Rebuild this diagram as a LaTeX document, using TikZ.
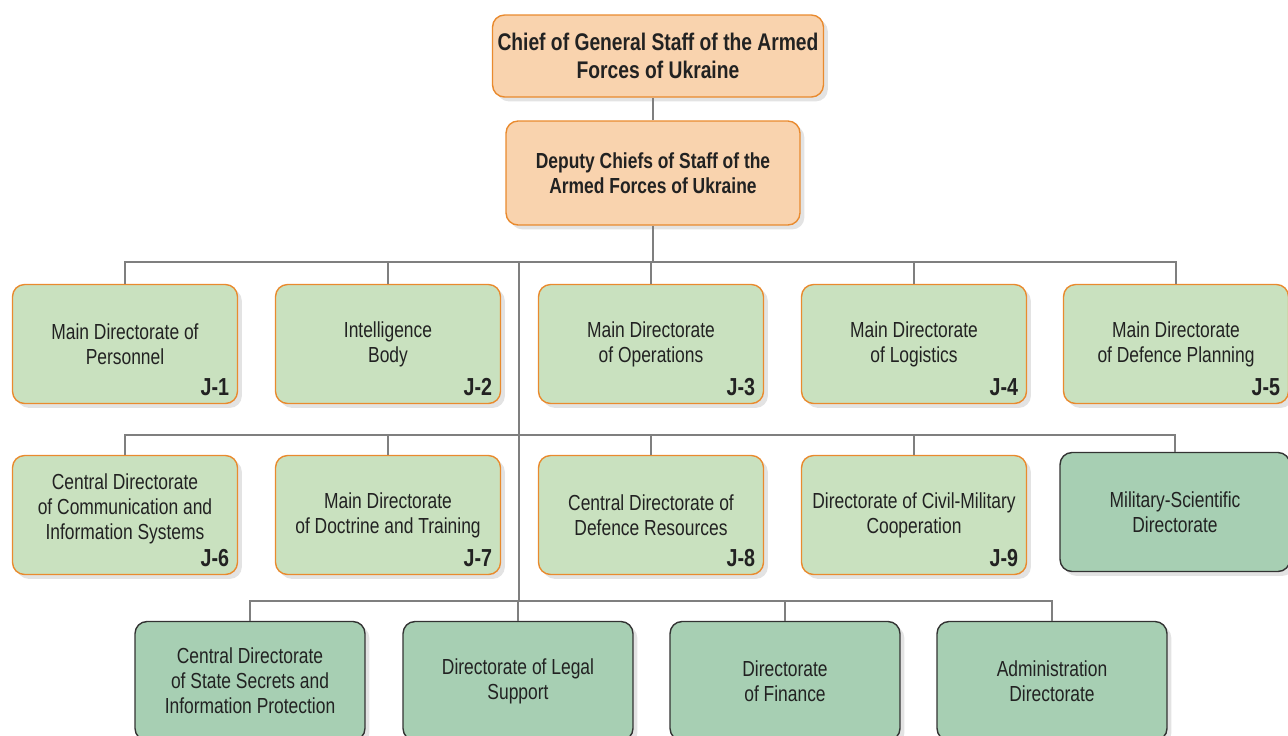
\documentclass[tikz,border=0pt]{standalone}
\usepackage{fontspec}
\setmainfont{Liberation Sans}[FakeStretch=0.8]
\usetikzlibrary{positioning,shadows}

\definecolor{boxorange}{HTML}{F9D3AE}
\definecolor{lineorange}{HTML}{E98A2E}
\definecolor{boxgreen}{HTML}{C9E1BF}
\definecolor{boxdark}{HTML}{A7CFB3}
\definecolor{linkgray}{HTML}{7F7F7F}
\definecolor{inkgray}{HTML}{222222}

\tikzset{
  box/.style={rounded corners=0.24cm, line width=0.8pt, align=center, text=inkgray,
    drop shadow={shadow xshift=2.5pt, shadow yshift=-2.5pt, opacity=0.22},
    font=\fontsize{12.4}{14.2}\selectfont},
  chief/.style={box, draw=lineorange, fill=boxorange, font=\fontsize{12.4}{14.2}\selectfont\bfseries},
  dept/.style={box, draw=lineorange, fill=boxgreen, minimum width=4.5cm, minimum height=2.38cm},
  unit/.style={box, draw=black!80, fill=boxdark, minimum width=4.6cm, minimum height=2.38cm},
  jtag/.style={anchor=south east, inner sep=2pt, xshift=-3pt, yshift=2.5pt, text=inkgray,
    font=\fontsize{14}{15}\selectfont\bfseries},
  link/.style={draw=linkgray, line width=1.3pt}
}

\begin{document}
\begin{tikzpicture}[x=0.02cm,y=-0.02cm]
  \useasboundingbox (0,0) rectangle (1288,735);

  % top of the staff
  \node[chief, minimum width=6.62cm, minimum height=1.64cm, inner xsep=2pt,
    font=\fontsize{13.7}{15.8}\selectfont\bfseries] (chief) at (658,56)
    {Chief of General Staff of the Armed\\Forces of Ukraine};
  \node[chief, minimum width=5.88cm, minimum height=2.08cm] (deputy) at (653,173)
    {Deputy Chiefs of Staff of the\\Armed Forces of Ukraine};

  % first row, J-1 to J-5
  \node[dept] (j1box) at (125,344) {Main Directorate of\\Personnel};
  \node[dept] (j2box) at (388,344) {Intelligence\\Body};
  \node[dept] (j3box) at (651,344) {Main Directorate\\of Operations};
  \node[dept] (j4box) at (914,344) {Main Directorate\\of Logistics};
  \node[dept] (j5box) at (1176,344) {Main Directorate\\of Defence Planning};

  % second row, J-6 to J-9
  \node[dept] (j6box) at (125,515) {Central Directorate\\of Communication and\\Information Systems\\[-4.2pt]};
  \node[dept] (j7box) at (388,515) {Main Directorate\\of Doctrine and Training};
  \node[dept] (j8box) at (651,515) {Central Directorate of\\Defence Resources};
  \node[dept] (j9box) at (914,515) {Directorate of Civil-Military\\Cooperation};
  \node[unit] (scibox) at (1175,512) {Military-Scientific\\Directorate};

  % third row
  \node[unit] (secbox) at (250,681) {Central Directorate\\of State Secrets and\\Information Protection};
  \node[unit] (legbox) at (518,681) {Directorate of Legal\\Support};
  \node[unit] (finbox) at (785,681) {Directorate\\of Finance};
  \node[unit] (admbox) at (1052,681) {Administration\\Directorate};

  \foreach \n in {1,...,9}
    \node[jtag] (j\n) at (j\n box.south east) {J-\n};

  % connectors
  \coordinate (bus1) at (519,262);
  \coordinate (bus2) at (519,435);
  \coordinate (bus3) at (519,601);

  \draw[link] (deputy.north) -- (deputy.north |- chief.south);
  \draw[link] (deputy.south) -- (deputy.south |- bus1);
  \draw[link] (bus1) -- (bus3);
  \draw[link] (j1box.north) -- (j1box.north |- bus1) -- (j5box.north |- bus1) -- (j5box.north);
  \draw[link] (j6box.north) -- (j6box.north |- bus2) -- (scibox.north |- bus2) -- (scibox.north);
  \draw[link] (secbox.north) -- (secbox.north |- bus3) -- (admbox.north |- bus3) -- (admbox.north);
  \foreach \n in {j2box,j3box,j4box}
    \draw[link] (\n.north) -- (\n.north |- bus1);
  \foreach \n in {j7box,j8box,j9box}
    \draw[link] (\n.north) -- (\n.north |- bus2);
  \foreach \n in {legbox,finbox}
    \draw[link] (\n.north) -- (\n.north |- bus3);
\end{tikzpicture}
\end{document}
